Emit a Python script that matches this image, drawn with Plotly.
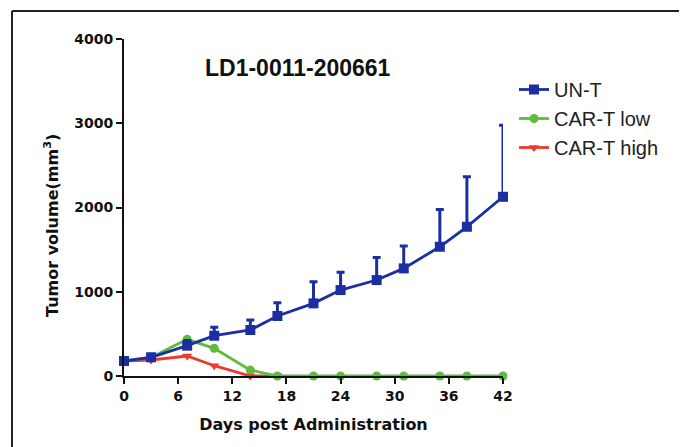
import plotly.graph_objects as go

days = [0, 3, 7, 10, 14, 17, 21, 24, 28, 31, 35, 38, 42]
unt_mean = [178, 222, 360, 478, 546, 712, 862, 1020, 1139, 1277, 1534, 1771, 2127]
unt_err = [30, 35, 60, 100, 118, 158, 257, 210, 269, 265, 443, 593, 850]
low_days = [0, 3, 7, 10, 14, 17, 21, 24, 28, 31, 35, 38, 42]
low_mean = [178, 220, 435, 328, 70, 0, 0, 0, 0, 0, 0, 0, 0]
high_days = [0, 3, 7, 10, 14, 17]
high_mean = [178, 190, 237, 122, 0, 0]

x_ticks = [0, 6, 12, 18, 24, 30, 36, 42]
y_ticks = [0, 1000, 2000, 3000, 4000]

BLUE = "#1b2fa3"
GREEN = "#5cbc3c"
RED = "#ee3a2e"

# page has an 8px body margin; figure is sized to fit inside the window
W, H = 679, 439
L, T = 116, 31
PW, PH = 379, 337

fig = go.Figure()
fig.add_trace(go.Scatter(
    x=high_days, y=high_mean, name="CAR-T high", mode="lines+markers",
    line=dict(color=RED, width=2.8),
    marker=dict(symbol="triangle-down", size=9, color=RED),
    cliponaxis=False, legendrank=3))
fig.add_trace(go.Scatter(
    x=low_days, y=low_mean, name="CAR-T low", mode="lines+markers",
    line=dict(color=GREEN, width=2.8),
    marker=dict(symbol="circle", size=9, color=GREEN),
    cliponaxis=False, legendrank=2))
fig.add_trace(go.Scatter(
    x=days, y=unt_mean, name="UN-T", mode="lines+markers",
    line=dict(color=BLUE, width=2.8),
    marker=dict(symbol="square", size=10, color=BLUE),
    error_y=dict(type="data", array=unt_err, arrayminus=[0]*len(unt_err),
                 symmetric=False, color=BLUE, thickness=3, width=4),
    cliponaxis=False, legendrank=1))


def px_x(p):
    return (p - 8 - L) / PW


def px_y(p):
    return (T + PH - (p - 8)) / PH


fig.update_layout(
    width=W, height=H,
    margin=dict(l=L, r=W - L - PW, t=T, b=H - T - PH),
    paper_bgcolor="white", plot_bgcolor="white",
    showlegend=True,
    legend=dict(x=px_x(514), y=px_y(70), xanchor="left", yanchor="top",
                font=dict(family="Liberation Sans, Arial", size=20, color="#222222"),
                bgcolor="rgba(0,0,0,0)", itemwidth=30, tracegroupgap=0),
    xaxis=dict(range=[0, 42], tickvals=x_ticks, ticktext=[str(t) for t in x_ticks],
               showgrid=False, zeroline=False, showline=True, linecolor="#111111",
               linewidth=2, ticks="outside", ticklen=6, tickwidth=2, tickcolor="#111111",
               tickfont=dict(family="DejaVu Sans", size=14, color="#111111", weight="bold"),
               title=dict(text="Days post Administration",
                          font=dict(family="DejaVu Sans", size=16, color="#111111", weight="bold"),
                          standoff=16)),
    yaxis=dict(range=[0, 4000], tickvals=y_ticks, ticktext=[str(t) for t in y_ticks],
               showgrid=False, zeroline=False, showline=True, linecolor="#111111",
               linewidth=2, ticks="outside", ticklen=6, tickwidth=2, tickcolor="#111111",
               tickfont=dict(family="DejaVu Sans", size=14, color="#111111", weight="bold")),
    annotations=[
        dict(text="<b>LD1-0011-200661</b>", xref="paper", yref="paper",
             x=px_x(298), y=px_y(68), xanchor="center", yanchor="middle",
             showarrow=False,
             font=dict(family="Liberation Sans, Arial", size=23, color="#111111")),
        dict(text="<b>Tumor volume(mm<sup>3</sup>)</b>", xref="paper", yref="paper",
             x=px_x(52), y=px_y(226), xanchor="center", yanchor="middle", textangle=-90,
             showarrow=False,
             font=dict(family="DejaVu Sans", size=16, color="#111111")),
    ],
    shapes=[
        dict(type="line", xref="paper", yref="paper",
             x0=px_x(12), x1=px_x(700), y0=px_y(11), y1=px_y(11),
             line=dict(color="#222222", width=2)),
        dict(type="line", xref="paper", yref="paper",
             x0=px_x(12), x1=px_x(12), y0=px_y(11), y1=px_y(460),
             line=dict(color="#222222", width=2)),
    ],
)

fig.write_html("out.html")
